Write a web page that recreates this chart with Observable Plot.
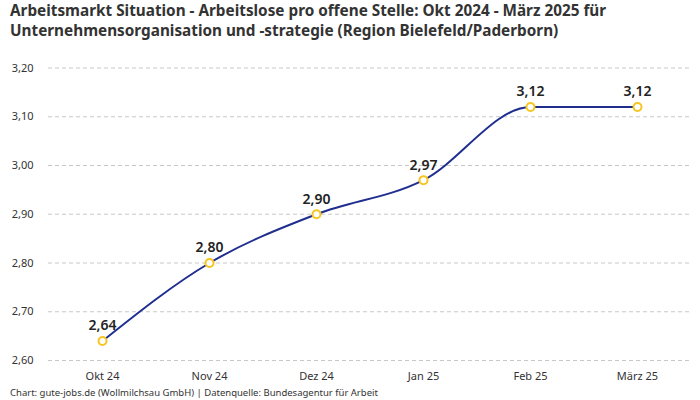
<!DOCTYPE html>
<html><head><meta charset="utf-8">
<script src="https://cdn.jsdelivr.net/npm/d3@7"></script>
<script src="https://cdn.jsdelivr.net/npm/@observablehq/plot@0.6"></script>
<style>
body{margin:0;background:#fff;font-family:"Noto Sans",sans-serif;}
#title{height:50px;box-sizing:border-box;padding:0 0 0 10px;font-weight:700;font-size:15.3px;line-height:20px;color:#333;}
#caption{height:14px;font-size:9.5px;line-height:14px;padding-left:10px;color:#333;}
</style></head><body>
<div id="title">Arbeitsmarkt Situation - Arbeitslose pro offene Stelle: Okt 2024 - März 2025 für<br>Unternehmensorganisation und -strategie (Region Bielefeld/Paderborn)</div>
<div id="chart"></div>
<div id="caption">Chart: gute-jobs.de (Wollmilchsau GmbH) | Datenquelle: Bundesagentur für Arbeit</div>
<script>
const months = ["Okt 24","Nov 24","Dez 24","Jan 25","Feb 25","März 25"];
const values = [2.64, 2.80, 2.90, 2.97, 3.12, 3.12];
const yTicks = [2.6, 2.7, 2.8, 2.9, 3.0, 3.1, 3.2];
const data = months.map((m,i)=>({month:m, value:values[i]}));
const fmt = v => v.toFixed(2).replace(".", ",");
const chart = Plot.plot({
  width:700, height:336,
  marginTop:17.5, marginBottom:26, marginLeft:48, marginRight:10,
  style:{fontFamily:"Noto Sans, sans-serif", fontSize:"11px", color:"#333"},
  x:{type:"point", domain:months, padding:0.5, label:null, tickSize:0, tickPadding:12},
  y:{domain:[2.6,3.2], ticks:yTicks, label:null, tickSize:0, tickPadding:15, tickFormat:fmt},
  marks:[
    Plot.ruleY(yTicks, {stroke:"#c8c8c8", strokeDasharray:"4,3", strokeWidth:1}),
    Plot.line(data, {x:"month", y:"value", curve:"monotone-x", stroke:"#1f2e8f", strokeWidth:2}),
    Plot.dot(data, {x:"month", y:"value", r:4, fill:"white", stroke:"#f6c520", strokeWidth:2}),
    Plot.text(data, {x:"month", y:"value", text:d=>fmt(d.value), dy:-15, fontSize:14, fontWeight:600, fill:"#222"})
  ]
});
document.getElementById("chart").appendChild(chart);
</script>
</body></html>
